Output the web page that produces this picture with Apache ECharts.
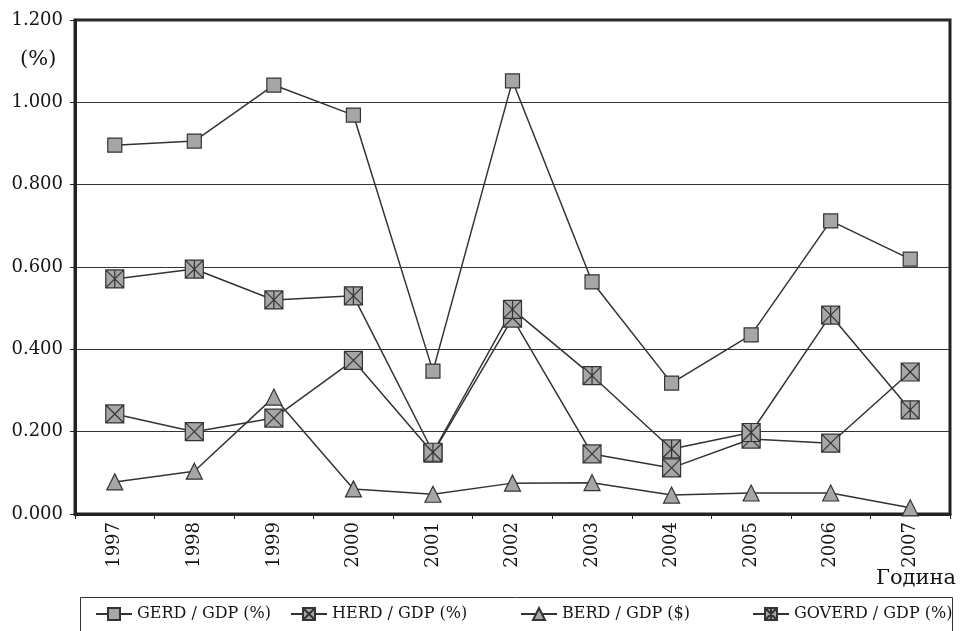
<!DOCTYPE html>
<html>
<head>
<meta charset="utf-8">
<script src="https://cdn.jsdelivr.net/npm/echarts@6/dist/echarts.min.js"></script>
<style>
  html, body { margin: 0; padding: 0; background: #fff; }
  #chart { width: 960px; height: 631px; }
</style>
</head>
<body>
<div id="chart"></div>
<script>
// R&D expenditure shares, 1997–2007
const years = ['1997','1998','1999','2000','2001','2002','2003','2004','2005','2006','2007'];
const gerd   = [0.896, 0.906, 1.042, 0.969, 0.347, 1.052, 0.564, 0.318, 0.435, 0.712, 0.619];
const herd   = [0.243, 0.200, 0.233, 0.373, 0.148, 0.476, 0.146, 0.112, 0.182, 0.172, 0.345];
const berd   = [0.078, 0.104, 0.284, 0.061, 0.048, 0.075, 0.076, 0.046, 0.051, 0.051, 0.015];
const goverd = [0.571, 0.595, 0.520, 0.530, 0.150, 0.497, 0.336, 0.158, 0.198, 0.483, 0.253];
const yTicks = [0, 0.2, 0.4, 0.6, 0.8, 1.0, 1.2];

const seriesNames = ['GERD / GDP (%)', 'HERD / GDP (%)', 'BERD / GDP ($)', 'GOVERD / GDP (%)'];

const FONT = 'DejaVu Serif';
const INK = '#151515';
const FILL = '#a6a6a6';

const boxX = 'path://M0,0H20V20H0Z M0,0L20,20 M20,0L0,20';
const boxXBar = 'path://M0,0H20V20H0Z M0,0L20,20 M20,0L0,20 M10,0L10,20';

function lineSeries(name, data, symbol, size) {
  return {
    name: name,
    type: 'line',
    data: data,
    symbol: symbol,
    symbolSize: size,
    showAllSymbol: true,
    lineStyle: { color: '#333', width: 1.5 },
    itemStyle: { color: FILL, borderColor: '#333', borderWidth: 1.2 },
    emphasis: { disabled: true },
    animation: false
  };
}

function legendAt(left, name) {
  return {
    data: [name],
    left: left,
    top: 606,
    itemWidth: 36,
    itemHeight: 15,
    padding: 0,
    textStyle: { fontFamily: FONT, fontSize: 16, color: INK },
    selectedMode: false
  };
}

const chart = echarts.init(document.getElementById('chart'), null, { renderer: 'canvas' });
chart.setOption({
  backgroundColor: '#fff',
  animation: false,
  grid: {
    left: 75, right: 10, top: 20, bottom: 117,
    show: true, borderColor: '#222', borderWidth: 3, backgroundColor: 'transparent'
  },
  xAxis: {
    type: 'category',
    data: years,
    boundaryGap: true,
    axisLine: { lineStyle: { color: '#222', width: 3 } },
    axisTick: { show: true, length: 5, lineStyle: { color: '#222', width: 1 } },
    axisLabel: { rotate: 90, margin: 8, fontFamily: FONT, fontSize: 18, color: INK }
  },
  yAxis: {
    type: 'value',
    min: yTicks[0],
    max: yTicks[yTicks.length - 1],
    interval: 0.2,
    axisLine: { show: true, lineStyle: { color: '#222', width: 3 } },
    axisTick: { show: true, length: 5, lineStyle: { color: '#222', width: 1 } },
    splitLine: { show: true, lineStyle: { color: '#333', width: 1.2 } },
    axisLabel: {
      margin: 12, fontFamily: FONT, fontSize: 18, color: INK,
      formatter: v => v.toFixed(3)
    }
  },
  legend: [
    legendAt(95, seriesNames[0]),
    legendAt(290, seriesNames[1]),
    legendAt(520, seriesNames[2]),
    legendAt(752, seriesNames[3])
  ],
  graphic: [
    {
      type: 'rect',
      shape: { x: 80.5, y: 597.5, width: 872, height: 60 },
      style: { fill: 'none', stroke: '#333', lineWidth: 1 },
      silent: true
    },
    {
      type: 'text',
      left: 20, top: 49,
      style: { text: '(%)', fontFamily: FONT, fontSize: 21, fill: INK }
    },
    {
      type: 'text',
      right: 4, top: 568,
      style: { text: 'Година', fontFamily: FONT, fontSize: 21, fill: INK }
    }
  ],
  series: [
    lineSeries(seriesNames[0], gerd, 'rect', 14),
    lineSeries(seriesNames[1], herd, boxX, 18),
    lineSeries(seriesNames[2], berd, 'triangle', 16),
    lineSeries(seriesNames[3], goverd, boxXBar, 18)
  ]
});
</script>
</body>
</html>
